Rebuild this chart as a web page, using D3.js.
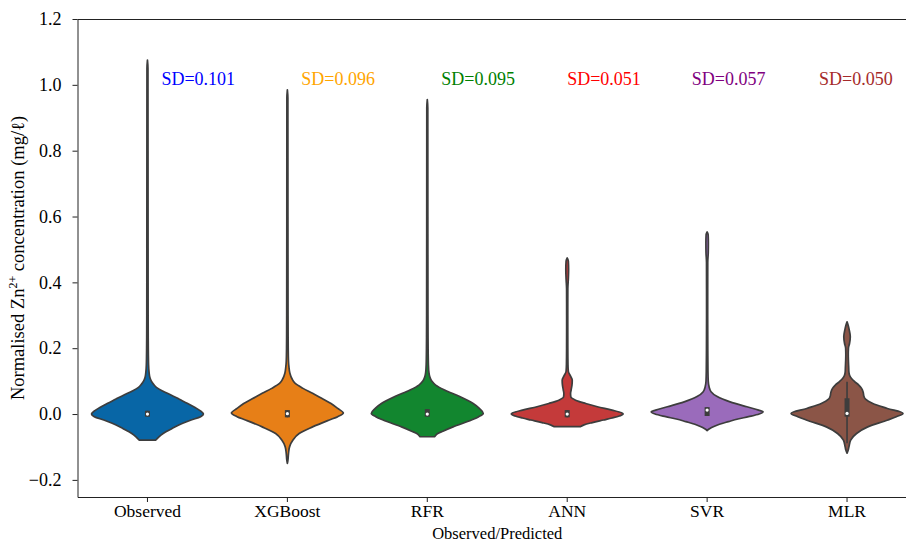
<!DOCTYPE html>
<html>
<head>
<meta charset="utf-8">
<script src="https://cdn.jsdelivr.net/npm/d3@7"></script>
<style>
  html, body { margin: 0; padding: 0; background: #fff; }
</style>
</head>
<body>
<svg id="chart" width="906" height="542"></svg>
<script>
// ---------------- data ----------------
const categories = ["Observed", "XGBoost", "RFR", "ANN", "SVR", "MLR"];
const fillColors = ["#0866a6", "#e77f17", "#12862f", "#c43a3a", "#9a6bbb", "#8b5547"];
const sdValues = [0.101, 0.096, 0.095, 0.051, 0.057, 0.050];
const sdColors = ["blue", "orange", "green", "red", "purple", "brown"];
const sdLabelX = [0.1, 1.1, 2.1, 3.0, 3.89, 4.8];   // label anchor, in category units
const yTicks = [-0.2, 0.0, 0.2, 0.4, 0.6, 0.8, 1.0, 1.2];

// violin profiles: [value, relative half-width]
const densityObserved = [[1.075,0],[1.05,0.009],[0.8,0.01],[0.5,0.011],[0.3,0.012],[0.2,0.015],[0.15,0.02],[0.125,0.03],[0.11,0.045],[0.1,0.07],[0.09,0.11],[0.081,0.16],[0.07,0.27],[0.058,0.42],[0.045,0.57],[0.032,0.72],[0.02,0.85],[0.008,0.96],[0.0,1.0],[-0.008,0.95],[-0.018,0.78],[-0.028,0.63],[-0.044,0.44],[-0.059,0.28],[-0.07,0.2],[-0.079,0.15]];
const densityXGBoost = [[0.985,0],[0.96,0.009],[0.6,0.01],[0.3,0.012],[0.2,0.015],[0.16,0.02],[0.143,0.028],[0.124,0.045],[0.108,0.08],[0.093,0.14],[0.078,0.28],[0.063,0.45],[0.047,0.62],[0.032,0.78],[0.017,0.9],[0.003,1.0],[-0.008,0.9],[-0.018,0.75],[-0.039,0.45],[-0.059,0.21],[-0.079,0.1],[-0.099,0.04],[-0.12,0.02],[-0.14,0.01],[-0.15,0]];
const densityRFR = [[0.955,0],[0.93,0.009],[0.6,0.01],[0.3,0.012],[0.2,0.015],[0.15,0.02],[0.125,0.03],[0.113,0.045],[0.1,0.08],[0.088,0.15],[0.073,0.31],[0.053,0.58],[0.032,0.82],[0.017,0.93],[0.002,1.0],[-0.008,0.92],[-0.018,0.79],[-0.039,0.46],[-0.052,0.28],[-0.06,0.18],[-0.066,0.145],[-0.069,0.13]];
const densityANN = [[0.474,0],[0.465,0.02],[0.44,0.025],[0.41,0.02],[0.38,0.011],[0.3,0.01],[0.2,0.011],[0.15,0.014],[0.13,0.02],[0.115,0.06],[0.103,0.09],[0.088,0.085],[0.073,0.07],[0.062,0.06],[0.052,0.065],[0.042,0.15],[0.032,0.33],[0.022,0.54],[0.012,0.8],[0.004,0.97],[0.0,1.0],[-0.006,0.93],[-0.012,0.8],[-0.018,0.65],[-0.026,0.45],[-0.033,0.3],[-0.038,0.24]];
const densitySVR = [[0.553,0],[0.545,0.018],[0.52,0.022],[0.49,0.02],[0.46,0.011],[0.3,0.01],[0.194,0.012],[0.13,0.015],[0.1,0.02],[0.083,0.035],[0.068,0.07],[0.053,0.18],[0.037,0.41],[0.022,0.71],[0.012,0.92],[0.007,1.0],[0.0,0.93],[-0.008,0.74],[-0.015,0.55],[-0.023,0.38],[-0.031,0.22],[-0.038,0.12],[-0.044,0.05],[-0.05,0]];
const densityMLR = [[0.28,0],[0.27,0.02],[0.255,0.04],[0.235,0.058],[0.215,0.045],[0.2,0.025],[0.18,0.022],[0.164,0.024],[0.14,0.03],[0.13,0.032],[0.118,0.045],[0.108,0.08],[0.098,0.14],[0.088,0.21],[0.078,0.26],[0.065,0.29],[0.055,0.3],[0.045,0.33],[0.032,0.46],[0.017,0.72],[0.002,1.0],[-0.008,0.88],[-0.018,0.73],[-0.039,0.37],[-0.059,0.17],[-0.079,0.065],[-0.099,0.035],[-0.11,0.02],[-0.119,0]];
const densities = [densityObserved, densityXGBoost, densityRFR, densityANN, densitySVR, densityMLR];

// inner box statistics
const boxQ1 = [-0.008, -0.010, -0.008, -0.010, -0.006, -0.008];
const boxQ3 = [0.010, 0.012, 0.015, 0.012, 0.021, 0.048];
const whiskerLow = [-0.008, -0.010, -0.008, -0.010, -0.006, -0.089];
const whiskerHigh = [0.010, 0.012, 0.015, 0.012, 0.021, 0.098];
const medians = [0.0, 0.001, 0.0, 0.0, 0.012, 0.002];

// ---------------- layout ----------------
const FONT = "'Liberation Serif', 'Times New Roman', Times, 'DejaVu Serif', serif";
const svg = d3.select("#chart");
const mLeft = 77.5, mRight = 917, mTop = 19, mBottom = 497;

const x = d3.scaleBand().domain(categories).range([mLeft, mRight]).padding(0);
const y = d3.scaleLinear().domain([-0.252, 1.2]).range([mBottom, mTop]);
const xi = d3.scaleLinear().domain([0, 1]).range([0, x.step()]); // category units -> px
const halfMax = x.bandwidth() * 0.4;
const edge = "#3d3d3d";

// violins
const g = svg.append("g");
densities.forEach((dens, i) => {
  const cx = x(categories[i]) + x.bandwidth() / 2;
  const pts = dens.slice().sort((a, b) => b[0] - a[0]);
  const area = d3.area()
    .y(d => y(d[0]))
    .x0(d => cx - d[1] * halfMax)
    .x1(d => cx + d[1] * halfMax)
    .curve(d3.curveMonotoneY);
  g.append("path")
    .attr("d", area(pts))
    .attr("fill", fillColors[i])
    .attr("stroke", edge)
    .attr("stroke-width", 1.7)
    .attr("stroke-linejoin", "round");

  // inner box
  g.append("line")
    .attr("x1", cx).attr("x2", cx)
    .attr("y1", y(whiskerLow[i])).attr("y2", y(whiskerHigh[i]))
    .attr("stroke", edge).attr("stroke-width", 1.6);
  g.append("line")
    .attr("x1", cx).attr("x2", cx)
    .attr("y1", y(boxQ1[i])).attr("y2", y(boxQ3[i]))
    .attr("stroke", edge).attr("stroke-width", 5);
  g.append("circle")
    .attr("cx", cx).attr("cy", y(medians[i]))
    .attr("r", 1.6).attr("fill", "#fff");
});

// SD labels
svg.append("g").selectAll("text")
  .data(categories)
  .join("text")
  .attr("x", (d, i) => x(categories[0]) + x.bandwidth() / 2 + xi(sdLabelX[i]))
  .attr("y", y(1.0))
  .style("font-family", FONT)
  .style("font-size", "18px")
  .attr("fill", (d, i) => sdColors[i])
  .text((d, i) => "SD=" + d3.format(".3f")(sdValues[i]));

// axes
const yAxis = svg.append("g")
  .attr("transform", `translate(${mLeft},0)`)
  .call(d3.axisLeft(y).tickValues(yTicks).tickFormat(d3.format(".1f")).tickSize(5).tickPadding(11).tickSizeOuter(0));
const xAxis = svg.append("g")
  .attr("transform", `translate(0,${mBottom})`)
  .call(d3.axisBottom(x).tickSize(5).tickPadding(3).tickSizeOuter(0));
[yAxis, xAxis].forEach(a => {
  a.attr("font-family", null).attr("font-size", null);
  a.selectAll("path, line").attr("stroke", "#222").attr("stroke-width", 1);
  a.selectAll("text").attr("fill", "#000")
    .style("font-family", FONT).style("font-size", "18px");
});
xAxis.selectAll("text").style("font-size", "17.5px");

// top spine
svg.append("line")
  .attr("x1", mLeft).attr("x2", mRight).attr("y1", y(1.2) + 0.5).attr("y2", y(1.2) + 0.5)
  .attr("stroke", "#222").attr("stroke-width", 1);

// axis titles
svg.append("text")
  .attr("x", (mLeft + mRight) / 2).attr("y", 538.5)
  .attr("text-anchor", "middle")
  .style("font-family", FONT).style("font-size", "16.5px")
  .text("Observed/Predicted");

const yl = svg.append("text")
  .attr("transform", `translate(24,${(mTop + mBottom) / 2}) rotate(-90)`)
  .attr("text-anchor", "middle")
  .style("font-family", FONT).style("font-size", "18.5px");
yl.append("tspan").text("Normalised Zn");
yl.append("tspan").attr("baseline-shift", "super").style("font-size", "12px").text("2+");
yl.append("tspan").text(" concentration (mg/\u2113)");
</script>
</body>
</html>
